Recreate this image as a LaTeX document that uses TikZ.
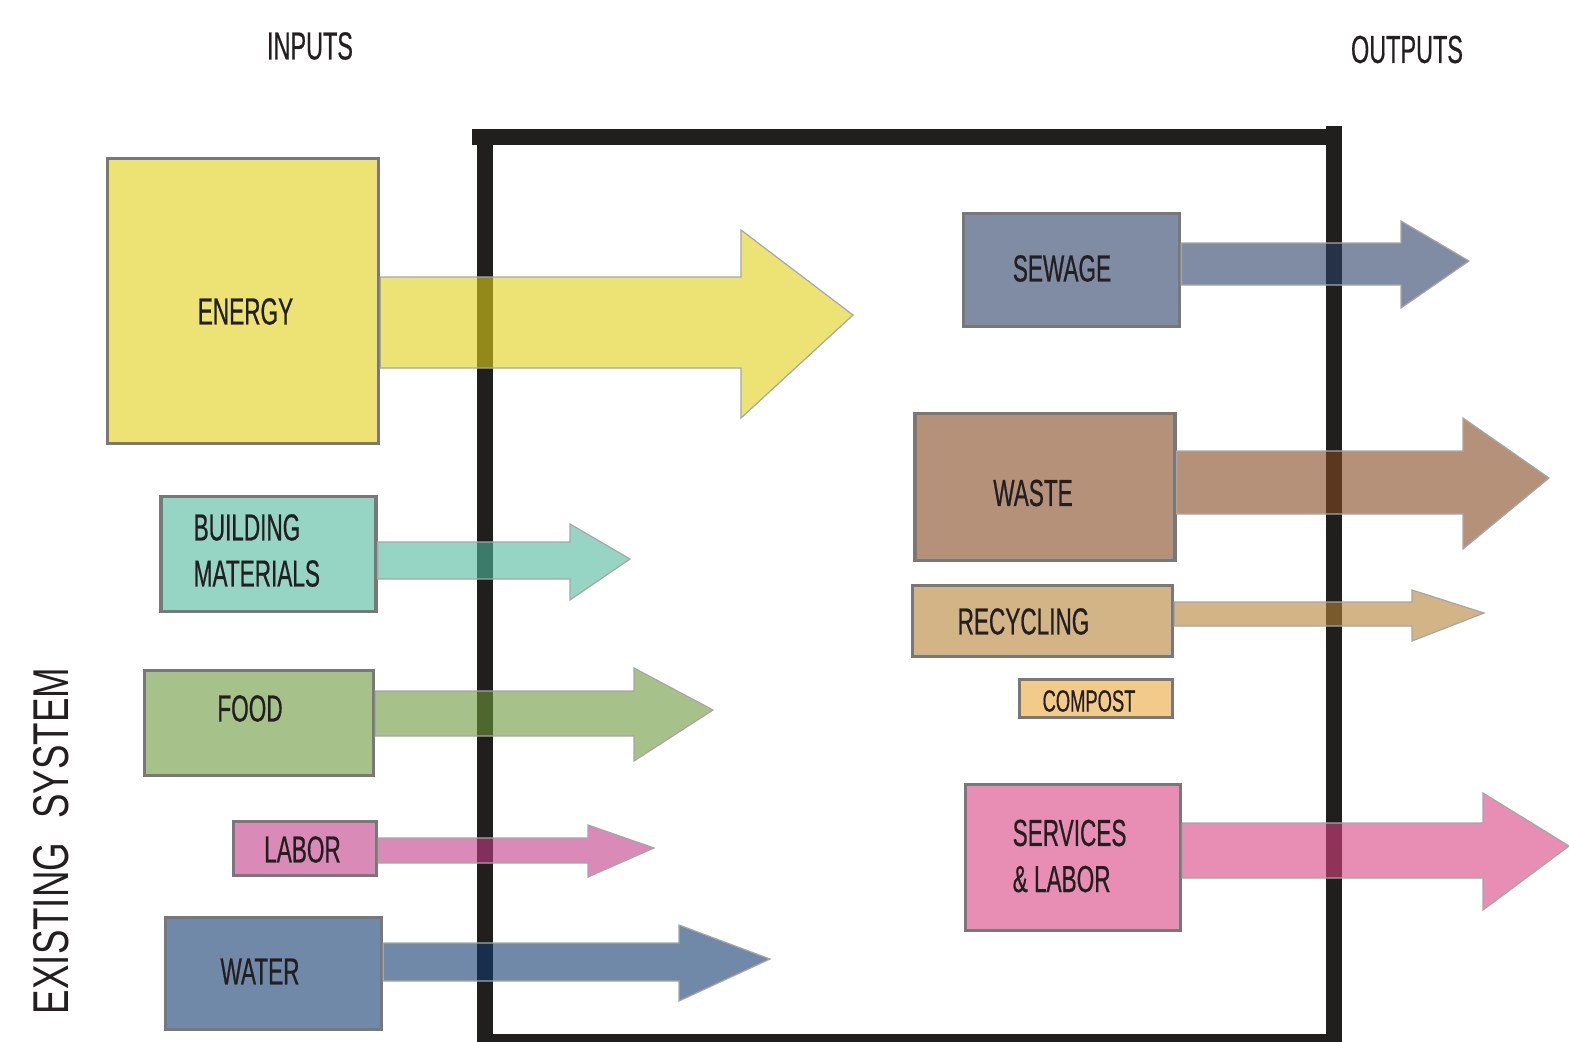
\documentclass[tikz,border=0pt]{standalone}
\usepackage{fontspec}
\setmainfont{Liberation Sans}
\newfontfamily\condfont[FakeStretch=0.6,FakeBold=0.5]{Liberation Sans}
\newfontfamily\plainfont[FakeStretch=0.73]{Liberation Sans}
\usepackage{xcolor}
\usepackage{tikz}
\definecolor{energyc}{RGB}{225,208,25}
\definecolor{buildc}{RGB}{80,183,157}
\definecolor{foodc}{RGB}{107,152,60}
\definecolor{laborc}{RGB}{192,60,133}
\definecolor{waterc}{RGB}{18,58,110}
\definecolor{sewagec}{RGB}{42,63,102}
\definecolor{wastec}{RGB}{132,72,33}
\definecolor{recyclec}{RGB}{180,130,55}
\definecolor{servicec}{RGB}{217,65,130}
\definecolor{compostc}{RGB}{233,168,60}
\definecolor{boxline}{RGB}{120,120,120}
\definecolor{framec}{RGB}{32,31,29}
\definecolor{txtc}{RGB}{35,31,32}

\begin{document}
\begin{tikzpicture}[x=0.01cm,y=-0.01cm,
box/.style={draw=boxline,line width=0.035cm,inner sep=0},
flow/.style={draw=gray!70,line width=0.012cm,fill opacity=0.6},
frame/.style={draw=framec,line width=0.16cm},
lbl/.style={text=txtc,inner sep=0,font=\condfont\fontsize{10.7}{13.1}\selectfont}]
\useasboundingbox (0,0) rectangle (1569,1042);
% the system boundary
\draw[frame](472,137)--(1342,137);
\draw[frame](485,137)--(485,1050);
\draw[frame](1334,126)--(1334,1050);
\draw[frame](477,1042)--(1342,1042);
% inputs
\node[box,fill=energyc!60!white,minimum width=2.71cm,minimum height=2.85cm](energy) at (243,301){};
\node[box,fill=buildc!60!white,minimum width=2.15cm,minimum height=1.15cm](build) at (268.5,554){};
\node[box,fill=foodc!60!white,minimum width=2.29cm,minimum height=1.05cm](food) at (259,723){};
\node[box,fill=laborc!60!white,minimum width=1.43cm,minimum height=0.54cm](labor) at (305,848.5){};
\node[box,fill=waterc!60!white,minimum width=2.16cm,minimum height=1.12cm](water) at (273.5,973.5){};
% outputs
\node[box,fill=sewagec!60!white,minimum width=2.16cm,minimum height=1.13cm](sewage) at (1071.5,270){};
\node[box,fill=wastec!60!white,minimum width=2.60cm,minimum height=1.47cm](waste) at (1045,487){};
\node[box,fill=recyclec!60!white,minimum width=2.60cm,minimum height=0.71cm](recycle) at (1042.5,621){};
\node[box,fill=compostc!60!white,minimum width=1.53cm,minimum height=0.38cm](compost) at (1096,698.5){};
\node[box,fill=servicec!60!white,minimum width=2.15cm,minimum height=1.46cm](service) at (1073,857.5){};
% flows
\draw[flow,fill=energyc](energy.east |- 0,277)--(741,277)--(741,230)--(853,315)--(741,418)--(741,368)--(energy.east |- 0,368)--cycle;
\draw[flow,fill=buildc](build.east |- 0,542)--(570,542)--(570,524)--(630,559)--(570,600)--(570,579)--(build.east |- 0,579)--cycle;
\draw[flow,fill=foodc](food.east |- 0,691)--(634,691)--(634,668)--(713,710)--(634,761)--(634,736)--(food.east |- 0,736)--cycle;
\draw[flow,fill=laborc](labor.east |- 0,838)--(588,838)--(588,825)--(654,848)--(588,877)--(588,863)--(labor.east |- 0,863)--cycle;
\draw[flow,fill=waterc](water.east |- 0,943)--(679,943)--(679,925)--(770,959)--(679,1001)--(679,981)--(water.east |- 0,981)--cycle;
\draw[flow,fill=sewagec](sewage.east |- 0,243)--(1401,243)--(1401,221)--(1469,261)--(1401,308)--(1401,285)--(sewage.east |- 0,285)--cycle;
\draw[flow,fill=wastec](waste.east |- 0,451)--(1463,451)--(1463,418)--(1549,478)--(1463,549)--(1463,514)--(waste.east |- 0,514)--cycle;
\draw[flow,fill=recyclec](recycle.east |- 0,602)--(1412,602)--(1412,590)--(1484,613)--(1412,641)--(1412,626)--(recycle.east |- 0,626)--cycle;
\draw[flow,fill=servicec](service.east |- 0,823)--(1483,823)--(1483,793)--(1569,846)--(1483,910)--(1483,878)--(service.east |- 0,878)--cycle;
% texts
\node[lbl,font=\condfont\fontsize{11.1}{13}\selectfont](inputs) at (310,46){INPUTS};
\node[lbl,font=\condfont\fontsize{11.1}{13}\selectfont](outputs) at (1407,49.5){OUTPUTS};
\node[lbl](energytxt) at (245.5,311.5){ENERGY};
\node[lbl,align=left,anchor=west](buildtxt) at (193,550.5){BUILDING\\MATERIALS};
\node[lbl](foodtxt) at (250,708.5){FOOD};
\node[lbl](labortxt) at (302.5,849.5){LABOR};
\node[lbl](watertxt) at (260,971.5){WATER};
\node[lbl](sewagetxt) at (1062,268.5){SEWAGE};
\node[lbl](wastetxt) at (1033,493){WASTE};
\node[lbl](recycletxt) at (1023.5,621.5){RECYCLING};
\node[lbl,font=\condfont\fontsize{8.7}{10}\selectfont](composttxt) at (1089,701){COMPOST};
\node[lbl,align=left,anchor=west](servicetxt) at (1012,856){SERVICES\\\& LABOR};
\node[lbl,rotate=90,font=\plainfont\fontsize{14.3}{16}\selectfont](existing) at (51,841){EXISTING\hspace{0.24cm}SYSTEM};
\end{tikzpicture}
\end{document}
